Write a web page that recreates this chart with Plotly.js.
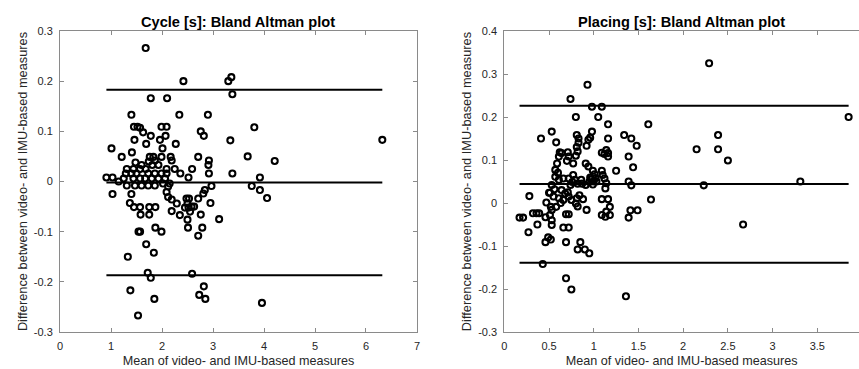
<!DOCTYPE html>
<html>
<head>
<meta charset="utf-8">
<script src="https://cdn.plot.ly/plotly-3.0.1.min.js"></script>
<style>html,body{margin:0;padding:0;background:#fff;}#chart{width:859px;height:369px;}</style>
</head>
<body>
<div id="chart"></div>
<script>
// ---- Cycle [s] (left panel) ----
const cycleMean = [1.68,2.42,3.30,3.36,3.38,1.78,2.10,1.40,2.34,2.90,1.45,1.52,1.57,1.99,2.09,3.81,1.63,2.76,1.78,2.07,2.82,1.46,1.96,3.34,6.32,1.69,2.27,1.01,2.01,1.41,1.21,1.76,1.83,1.99,2.17,2.71,3.68,2.19,2.92,4.21,2.91,1.74,1.81,1.68,1.31,1.44,1.57,2.09,2.25,2.59,2.36,2.92,3.38,2.52,0.91,1.03,1.15,1.29,1.40,1.50,1.60,1.73,1.86,1.99,2.09,1.25,1.31,1.44,1.57,1.67,1.80,1.93,2.06,1.47,1.60,1.73,1.86,2.02,2.12,1.03,1.40,2.09,2.12,2.19,2.29,1.37,1.45,1.57,1.75,1.87,1.58,1.75,2.19,2.35,2.48,2.53,2.50,2.58,2.52,2.45,2.71,2.81,2.84,2.97,2.95,2.76,2.50,2.51,2.79,2.71,3.12,1.54,1.57,1.87,1.99,1.69,1.84,1.33,1.72,1.78,2.59,1.38,1.85,2.73,2.82,2.85,1.53,3.96,3.92,3.76,3.92,4.06,1.93,1.86,2.15,2.63,2.55,1.48];
const cycleDiff = [0.266,0.200,0.200,0.208,0.174,0.166,0.166,0.133,0.133,0.133,0.109,0.109,0.107,0.109,0.109,0.108,0.098,0.100,0.091,0.091,0.091,0.083,0.083,0.082,0.083,0.075,0.075,0.066,0.066,0.058,0.049,0.049,0.049,0.049,0.049,0.049,0.050,0.042,0.042,0.041,0.033,0.040,0.033,0.025,0.025,0.025,0.025,0.025,0.025,0.025,0.016,0.016,0.016,0.008,0.008,0.008,0.000,0.016,0.016,0.016,0.033,0.016,0.016,0.016,0.016,0.006,-0.008,0.006,0.006,0.006,0.006,0.006,0.006,-0.008,-0.008,-0.008,-0.008,-0.004,-0.010,-0.025,-0.025,-0.021,-0.031,-0.036,-0.044,-0.043,-0.051,-0.051,-0.051,-0.051,-0.066,-0.066,-0.059,-0.067,-0.034,-0.034,-0.044,-0.050,-0.052,-0.052,-0.034,-0.024,-0.017,-0.009,-0.043,-0.066,-0.076,-0.092,-0.092,-0.108,-0.075,-0.100,-0.100,-0.092,-0.100,-0.125,-0.142,-0.150,-0.182,-0.192,-0.184,-0.217,-0.234,-0.226,-0.209,-0.234,-0.267,-0.242,0.008,-0.009,-0.017,-0.033,0.033,0.042,-0.004,-0.050,-0.060,0.038];
const cycleBias = -0.002;
const cycleUpper = 0.183;
const cycleLower = -0.187;

// ---- Placing [s] (right panel) ----
const placingMean = [2.29,0.93,0.74,0.98,1.09,0.80,1.05,3.85,1.16,1.61,0.53,0.98,0.41,0.58,0.81,0.83,0.96,1.16,1.34,1.42,1.48,2.39,2.39,2.15,2.50,1.39,1.44,1.39,1.42,1.39,1.41,1.49,1.36,1.64,2.23,3.31,2.67,1.25,1.09,1.14,1.16,1.16,1.12,0.92,0.91,0.94,0.99,1.01,1.09,1.10,1.12,1.14,1.13,1.09,1.16,1.18,1.14,1.09,1.13,1.18,0.92,0.88,0.84,0.80,0.82,0.66,0.69,0.85,0.82,0.90,0.95,0.43,0.69,0.75,0.27,0.37,0.17,0.21,0.32,0.36,0.39,0.28,0.46,0.49,0.52,0.47,0.46,0.51,0.53,0.53,0.50,0.52,0.58,0.53,0.69,0.72,0.72,0.62,0.71,0.61,0.72,0.70,0.59,0.57,0.77,0.57,0.61,0.66,0.72,0.77,0.79,0.86,0.53,0.56,0.51,0.55,0.64,0.68,0.61,0.66,0.72,0.75,0.81,0.82,0.81,0.82,0.80,0.83,0.94,0.97,1.00,1.02,0.95,0.99,0.74,0.76,0.71,0.63,0.96,1.03,0.64,0.87,0.91,0.60];
const placingDiff = [0.325,0.275,0.242,0.224,0.224,0.200,0.200,0.200,0.183,0.183,0.166,0.166,0.150,0.141,0.158,0.150,0.152,0.150,0.158,0.150,0.133,0.158,0.125,0.125,0.099,0.108,0.083,0.050,0.041,-0.034,-0.017,-0.017,-0.217,0.008,0.041,0.050,-0.050,0.075,0.117,0.123,0.116,0.108,0.114,0.133,0.092,0.085,0.075,0.067,0.075,0.065,0.057,0.046,0.034,0.009,0.009,-0.009,-0.020,-0.028,-0.032,-0.028,-0.016,0.009,0.018,-0.001,-0.008,-0.057,-0.091,-0.091,-0.108,-0.108,-0.117,-0.142,-0.175,-0.201,-0.068,-0.050,-0.034,-0.034,-0.024,-0.024,-0.024,0.016,-0.091,-0.080,-0.085,0.001,-0.033,-0.028,-0.040,-0.051,0.024,-0.009,-0.009,-0.016,-0.026,-0.026,-0.057,0.118,0.118,0.108,0.108,0.098,0.092,0.077,0.092,0.061,0.054,0.057,0.057,0.065,0.054,0.054,0.042,0.032,0.024,0.015,0.030,0.022,0.011,0.007,0.015,0.007,0.011,0.045,0.130,0.120,0.110,0.140,0.147,0.055,0.050,0.058,0.049,0.043,0.042,0.049,0.025,0.000,0.059,0.050,0.116,0.045,0.042,0.070];
const placingBias = 0.044;
const placingUpper = 0.226;
const placingLower = -0.139;

// ---- tick labels ----
const cycleXTicks = [0,1,2,3,4,5,6,7];
const cycleXText = ["0","1","2","3","4","5","6","7"];
const cycleYTicks = [-0.3,-0.2,-0.1,0,0.1,0.2,0.3];
const cycleYText = ["-0.3","-0.2","-0.1","0","0.1","0.2","0.3"];
const placingXTicks = [0,0.5,1,1.5,2,2.5,3,3.5];
const placingXText = ["0","0.5","1","1.5","2","2.5","3","3.5"];
const placingYTicks = [-0.3,-0.2,-0.1,0,0.1,0.2,0.3,0.4];
const placingYText = ["-0.3","-0.2","-0.1","0","0.1","0.2","0.3","0.4"];

const titles = ["Cycle [s]: Bland Altman plot", "Placing [s]: Bland Altman plot"];
const xTitle = "Mean of video- and IMU-based measures";
const yTitle = "Difference between video- and IMU-based measures";

const FONT = "Liberation Sans, Arial, sans-serif";
const AX = "#8a8a8a";
const TXT = "#262626";

function limitTraces(xs, bias, up, lo, xa, ya) {
  const x0 = Math.min(...xs), x1 = Math.max(...xs);
  return [bias, up, lo].map(v => ({
    x: [x0, x1], y: [v, v], xaxis: xa, yaxis: ya, mode: "lines",
    line: {color: "#000", width: 2}, hoverinfo: "skip", showlegend: false
  }));
}
const markerStyle = {symbol: "circle-open", size: 6, color: "#000", line: {width: 2.1, color: "#000"}};

const data = [
  ...limitTraces(cycleMean, cycleBias, cycleUpper, cycleLower, "x", "y"),
  {x: cycleMean, y: cycleDiff, xaxis: "x", yaxis: "y", mode: "markers", type: "scatter", marker: markerStyle, showlegend: false},
  ...limitTraces(placingMean, placingBias, placingUpper, placingLower, "x2", "y2"),
  {x: placingMean, y: placingDiff, xaxis: "x2", yaxis: "y2", mode: "markers", type: "scatter", marker: markerStyle, showlegend: false}
];

function xAxis(domain, range, tv, tt, anchor) {
  return {
    domain: domain, range: range, anchor: anchor, tickvals: tv, ticktext: tt,
    ticks: "inside", ticklen: 4, tickcolor: AX, tickwidth: 1,
    showline: true, linecolor: AX, linewidth: 1, mirror: "ticks",
    showgrid: false, zeroline: false, ticklabelstandoff: 4,
    tickfont: {family: FONT, size: 11, color: TXT},
    title: {text: xTitle, font: {family: FONT, size: 12.6, color: TXT}, standoff: 4}
  };
}
function yAxis(range, tv, tt, anchor, mirror) {
  return {
    domain: [0, 1], range: range, anchor: anchor, tickvals: tv, ticktext: tt,
    ticks: "inside", ticklen: 4, tickcolor: AX, tickwidth: 1,
    showline: true, linecolor: AX, linewidth: 1, mirror: mirror,
    showgrid: false, zeroline: false, ticklabelstandoff: 4,
    tickfont: {family: FONT, size: 11, color: TXT},
    title: {text: yTitle, font: {family: FONT, size: 12.8, color: TXT}, standoff: 3}
  };
}

const leftDom = [0, 0.4468];
const rightDom = [0.5561, 1];

const layout = {
  width: 859, height: 369,
  margin: {l: 60, r: 0, t: 31, b: 37},
  paper_bgcolor: "#fff", plot_bgcolor: "#fff",
  showlegend: false,
  xaxis: xAxis(leftDom, [0, 7], cycleXTicks, cycleXText, "y"),
  yaxis: yAxis([-0.3, 0.3], cycleYTicks, cycleYText, "x", "ticks"),
  xaxis2: xAxis(rightDom, [0, 3.966], placingXTicks, placingXText, "y2"),
  yaxis2: yAxis([-0.3, 0.4], placingYTicks, placingYText, "x2", false),
  annotations: [
    {text: "<b>" + titles[0] + "</b>", xref: "paper", yref: "paper", x: (leftDom[0] + leftDom[1]) / 2, y: 1, xanchor: "center", yanchor: "bottom", yshift: -1, showarrow: false, font: {family: FONT, size: 14.6, color: "#000"}},
    {text: "<b>" + titles[1] + "</b>", xref: "paper", yref: "paper", x: (rightDom[0] + rightDom[1]) / 2, y: 1, xanchor: "center", yanchor: "bottom", yshift: -1, showarrow: false, font: {family: FONT, size: 14.6, color: "#000"}}
  ]
};

Plotly.newPlot("chart", data, layout, {displayModeBar: false, staticPlot: true});
</script>
</body>
</html>
